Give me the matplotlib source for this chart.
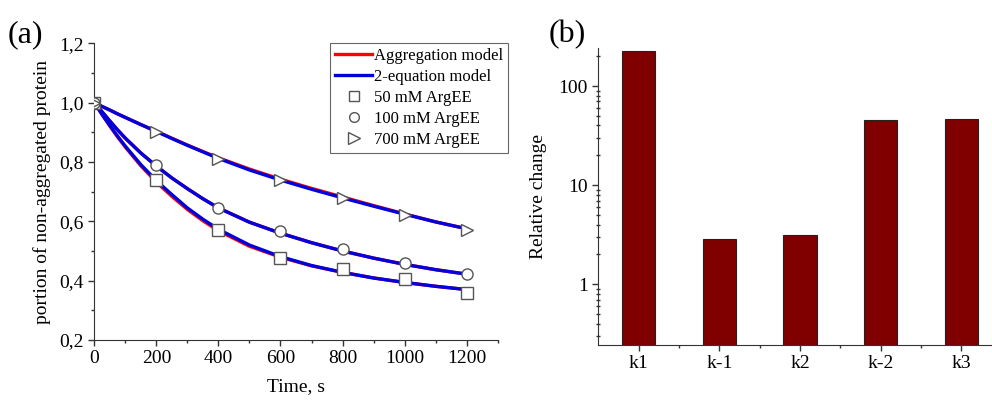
import numpy as np
import matplotlib
matplotlib.use("Agg")
import matplotlib.pyplot as plt
from matplotlib.ticker import MultipleLocator, FuncFormatter, LogLocator, FixedLocator, NullFormatter
from matplotlib.lines import Line2D

plt.rcParams['font.family'] = ['Liberation Serif', 'DejaVu Serif']

# measured points
t_pts = [0, 200, 400, 600, 800, 1000, 1200]
arg50 = [1.0, 0.739, 0.571, 0.475, 0.438, 0.405, 0.359]
arg100 = [1.0, 0.790, 0.644, 0.568, 0.506, 0.461, 0.421]
arg700 = [1.0, 0.902, 0.809, 0.739, 0.680, 0.621, 0.571]

# model curves
t_fit = [0, 25, 50, 75, 100, 150, 200, 250, 300, 350, 400, 500, 600, 700, 800, 900, 1000, 1100, 1200]
eq2_50 = [1.0, 0.960, 0.923, 0.887, 0.853, 0.791, 0.737, 0.690, 0.645, 0.607, 0.573, 0.520, 0.481, 0.451, 0.428, 0.409, 0.394, 0.381, 0.370]
eq2_100 = [1.0, 0.969, 0.938, 0.908, 0.880, 0.830, 0.786, 0.746, 0.710, 0.676, 0.645, 0.597, 0.560, 0.528, 0.500, 0.476, 0.455, 0.437, 0.422]
eq2_700 = [1.0, 0.987, 0.975, 0.962, 0.950, 0.926, 0.903, 0.879, 0.856, 0.834, 0.812, 0.773, 0.739, 0.708, 0.679, 0.651, 0.624, 0.598, 0.575]
agg_50 = [1.0, 0.960, 0.921, 0.884, 0.850, 0.787, 0.732, 0.684, 0.640, 0.602, 0.568, 0.516, 0.479, 0.450, 0.428, 0.409, 0.394, 0.381, 0.370]
agg_100 = [1.0, 0.969, 0.938, 0.908, 0.880, 0.830, 0.786, 0.746, 0.710, 0.676, 0.645, 0.597, 0.560, 0.528, 0.500, 0.476, 0.455, 0.437, 0.422]
agg_700 = [1.0, 0.987, 0.975, 0.962, 0.950, 0.926, 0.903, 0.880, 0.857, 0.835, 0.814, 0.776, 0.742, 0.711, 0.682, 0.653, 0.625, 0.598, 0.575]

# panel (b)
params = ["k1", "k-1", "k2", "k-2", "k3"]
rel_change = [227, 2.85, 3.13, 45.4, 46.8]

fig = plt.figure(figsize=(9.92, 4.03), dpi=100)
ax1 = fig.add_axes([0.0951, 0.1563, 0.4066, 0.7363])
ax2 = fig.add_axes([0.6031, 0.1439, 0.3969, 0.7370])

# ---- (a)
for y in (agg_50, agg_100, agg_700):
    ax1.plot(t_fit, y, color="#ff0000", lw=2.4, zorder=2)
for y in (eq2_50, eq2_100, eq2_700):
    ax1.plot(t_fit, y, color="#0000dd", lw=2.4, zorder=3)
mk = dict(ls="none", mfc="white", mec="#555555", mew=1.0, ms=8, zorder=4)
ax1.plot(t_pts, arg50, marker="s", **mk)
ax1.plot(t_pts, arg100, marker="o", **mk)
ax1.plot(t_pts, arg700, marker=">", **dict(mk, ms=9))

ax1.set_xlim(0, 1300)
ax1.set_ylim(0.2, 1.2)
ax1.xaxis.set_major_locator(FixedLocator(t_pts))
ax1.xaxis.set_minor_locator(MultipleLocator(100))
ax1.yaxis.set_major_locator(MultipleLocator(0.2))
ax1.yaxis.set_minor_locator(MultipleLocator(0.1))
ax1.yaxis.set_major_formatter(FuncFormatter(lambda v, p: f"{v:.1f}".replace(".", ",")))
for ax in (ax1, ax2):
    ax.spines[["top", "right"]].set_visible(False)
    ax.spines[["left", "bottom"]].set_color("#333333")
    ax.tick_params(which="major", direction="out", length=4, width=1, labelsize=14, colors="#333333", labelcolor="black")
    ax.tick_params(which="minor", direction="out", length=2.5, width=1, colors="#333333")
ax1.set_xlabel("Time, s", fontsize=14, labelpad=8)
ax1.set_ylabel("portion of non-aggregated protein", fontsize=14, labelpad=6)

handles = [Line2D([], [], color="#ff0000", lw=2.4),
           Line2D([], [], color="#0000dd", lw=2.4),
           Line2D([], [], marker="s", **dict(mk, ms=7)),
           Line2D([], [], marker="o", **dict(mk, ms=7)),
           Line2D([], [], marker=">", **dict(mk, ms=8))]
labels = ["Aggregation model", "2-equation model", "50 mM ArgEE", "100 mM ArgEE", "700 mM ArgEE"]
leg = ax1.legend(handles, labels, loc="upper right", bbox_to_anchor=(1.025, 1.0), fontsize=12,
                 frameon=True, fancybox=False, framealpha=1, edgecolor="#666666",
                 handlelength=2.2, handletextpad=0.1, labelspacing=0.3, borderpad=0.3, borderaxespad=0)
leg.get_frame().set_linewidth(0.8)

fig.text(0.008, 0.895, "(a)", fontsize=23)

# ---- (b)
x = np.arange(len(params))
ax2.bar(x, rel_change, width=0.41, color="#800000", edgecolor="#222222", lw=0.8, zorder=2)
ax2.set_yscale("log")
ax2.set_ylim(0.244, 242)
ax2.set_xlim(-0.5, 4.38)
ax2.set_xticks(x)
ax2.set_xticklabels(params)
ax2.xaxis.set_minor_locator(FixedLocator(x[:-1] + 0.5))
ax2.yaxis.set_major_locator(LogLocator(base=10))
ax2.yaxis.set_major_formatter(FuncFormatter(lambda v, p: f"{v:g}"))
ax2.yaxis.set_minor_locator(LogLocator(base=10, subs=np.arange(2, 10)))
ax2.yaxis.set_minor_formatter(NullFormatter())
ax2.tick_params(axis="y", which="minor", direction="inout", length=3)
ax2.set_ylabel("Relative change", fontsize=14, labelpad=8)

fig.text(0.553, 0.895, "(b)", fontsize=23)

fig.savefig("out.png", dpi=100)
